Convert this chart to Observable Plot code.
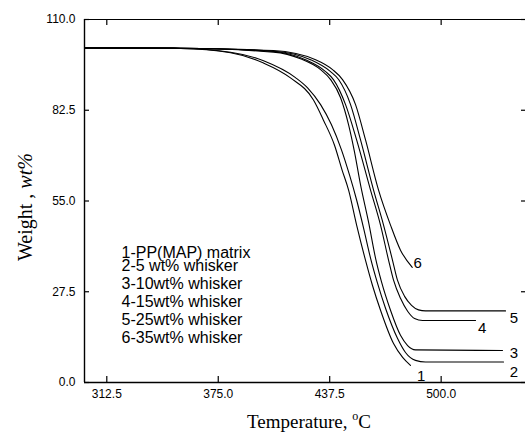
<!DOCTYPE html>
<html><head><meta charset="utf-8">
<script src="https://cdn.jsdelivr.net/npm/d3@7"></script>
<script src="https://cdn.jsdelivr.net/npm/@observablehq/plot@0.6"></script>
<style>body{margin:0;background:#fff} svg{display:block}</style>
</head><body><div id="chart"></div>
<script>
// Series: temperature (°C) and weight (wt%)
const seriesNames = ["1", "2", "3", "4", "5", "6"];
const temp1 = [300, 353.8, 381.9, 400.4, 415.5, 428.4, 434.0, 440.2, 444.5, 448.1, 452.6, 457.6, 461.5, 466.0, 473.3, 478.4, 482.8];
const weight1 = [101.4, 101.2, 99.9, 96.8, 92.3, 85.6, 79.5, 71.9, 64.3, 58.3, 47.7, 37.0, 29.4, 21.9, 11.8, 7.6, 5.2];
const temp2 = [300, 353.8, 381.9, 400.4, 418.3, 425.1, 432.4, 438.5, 444.1, 448.6, 452.6, 456.5, 460.4, 464.3, 468.8, 475.5, 480.0, 485.6, 491.2, 535.0];
const weight2 = [101.4, 101.2, 100.1, 97.5, 92.4, 89.3, 84.2, 78.1, 70.5, 62.9, 55.3, 46.8, 37.7, 30.1, 22.5, 13.4, 9.1, 6.7, 6.2, 6.2];
const temp3 = [300, 353.8, 406.0, 421.1, 432.4, 438.0, 443.6, 448.1, 451.4, 454.8, 459.3, 463.2, 466.6, 471.6, 477.2, 481.2, 485.6, 534.4];
const weight3 = [101.4, 101.3, 100.1, 98.1, 94.8, 91.8, 86.3, 78.1, 69.9, 59.9, 48.6, 37.7, 30.4, 21.9, 14.3, 11.2, 9.9, 9.7];
const temp4 = [300, 353.8, 406.0, 423.9, 435.2, 439.6, 446.4, 452.6, 460.4, 466.0, 470.5, 473.3, 477.2, 481.2, 485.1, 489.6, 519.3];
const weight4 = [101.4, 101.3, 100.3, 97.8, 94.2, 91.8, 84.2, 73.5, 58.3, 47.7, 37.1, 31.0, 25.5, 21.6, 19.4, 18.8, 18.8];
const temp5 = [300, 353.8, 406.0, 426.8, 438.0, 442.5, 449.2, 454.8, 462.1, 467.7, 472.7, 475.5, 479.5, 483.4, 487.3, 491.2, 536.1];
const weight5 = [101.4, 101.3, 100.4, 97.8, 94.2, 91.8, 84.2, 73.5, 58.3, 47.7, 37.1, 31.0, 26.1, 23.4, 22.0, 21.7, 21.7];
const temp6 = [300, 353.8, 406.0, 429.6, 439.1, 444.7, 452.0, 457.6, 464.9, 471.6, 477.2, 483.8];
const weight6 = [101.4, 101.3, 100.6, 97.8, 94.8, 91.8, 84.2, 73.5, 58.3, 47.7, 40.1, 34.9];

// Curve number labels
const labelTemp = [488.8, 540.8, 540.8, 523.0, 540.8, 486.9];
const labelWeight = [1.8, 3.1, 9.0, 16.6, 19.4, 36.1];

// Ticks
const xTicks = [312.5, 375.0, 437.5, 500.0];
const yTicks = [0, 27.5, 55.0, 82.5, 110.0];

// Legend text
const legendLines = ["1-PP(MAP) matrix", "2-5 wt% whisker", "3-10wt% whisker", "4-15wt% whisker", "5-25wt% whisker", "6-35wt% whisker"];

const temps = [temp1, temp2, temp3, temp4, temp5, temp6];
const weights = [weight1, weight2, weight3, weight4, weight5, weight6];
const rows = [];
seriesNames.forEach((s, i) => temps[i].forEach((t, j) => rows.push({s, t, w: weights[i][j]})));
const labels = seriesNames.map((s, i) => ({s, t: labelTemp[i], w: labelWeight[i]}));

const W = 525, H = 434, mL = 84, mR = 0, mT = 19, mB = 52;
const innerW = W - mL - mR, innerH = H - mT - mB;
const tickLen = 6;

const fmt = d3.format(".1f");
const svg = Plot.plot({
  width: W, height: H,
  marginLeft: mL, marginRight: mR, marginTop: mT, marginBottom: mB,
  x: {domain: [300, 547.3]},
  y: {domain: [0, 110]},
  style: {fontFamily: "'Liberation Sans', Arial, sans-serif", fontSize: "12px", color: "#000", background: "#fff"},
  marks: [
    Plot.ruleY([0], {stroke: "#000", strokeWidth: 1.4}),
    Plot.ruleY([110], {stroke: "#000", strokeWidth: 1.2}),
    Plot.ruleX([300], {stroke: "#000", strokeWidth: 1.4}),
    // inward tick marks (short rules via insets)
    Plot.ruleX(xTicks, {x: d => d, insetTop: innerH - tickLen, stroke: "#000", strokeWidth: 1.2}),
    Plot.ruleX(xTicks, {x: d => d, insetBottom: innerH - tickLen, stroke: "#000", strokeWidth: 1.2}),
    Plot.ruleY(yTicks, {y: d => d, insetRight: innerW - 5, stroke: "#000", strokeWidth: 1.2}),
    Plot.ruleY(yTicks, {y: d => d, insetLeft: innerW - 4, stroke: "#000", strokeWidth: 1.2}),
    Plot.line(rows, {x: "t", y: "w", z: "s", stroke: "#000", strokeWidth: 1.1, curve: "monotone-x"}),
    Plot.text(labels, {x: "t", y: "w", text: "s", fontSize: 15, fill: "#000", textAnchor: "middle", lineAnchor: "middle"}),
    Plot.axisX({ticks: xTicks, tickFormat: fmt, tickSize: 0, tickPadding: 7, label: null}),
    Plot.axisY({ticks: yTicks, tickFormat: fmt, tickSize: 0, tickPadding: 9, label: null})
  ]
});

const root = d3.select(svg);
const leg = root.append("g").attr("font-family", "'Liberation Sans', Arial, sans-serif").attr("font-size", 16)
  .attr("fill", "#000").attr("text-anchor", "start");
const legY = [257.5, 270.8, 288.5, 306.5, 324.8, 342.5];
legendLines.forEach((t, i) => leg.append("text").attr("x", 121.5).attr("y", legY[i]).attr("text-anchor", "start").text(t));

const xt = root.append("text").attr("x", 309).attr("y", 428).attr("text-anchor", "middle")
  .attr("font-family", "'Liberation Serif', 'Times New Roman', serif").attr("font-size", 19).attr("fill", "#000");
xt.append("tspan").text("Temperature, ");
xt.append("tspan").attr("font-size", 12).attr("dy", -8).text("o");
xt.append("tspan").attr("dy", 8).text("C");

const yt = root.append("text").attr("transform", "translate(32,207) rotate(-90)").attr("text-anchor", "middle")
  .attr("font-family", "'Liberation Serif', 'Times New Roman', serif").attr("font-size", 20).attr("fill", "#000");
yt.append("tspan").text("Weight , ");
yt.append("tspan").attr("font-style", "italic").text("wt%");

document.getElementById("chart").appendChild(svg);
</script>
</body></html>
